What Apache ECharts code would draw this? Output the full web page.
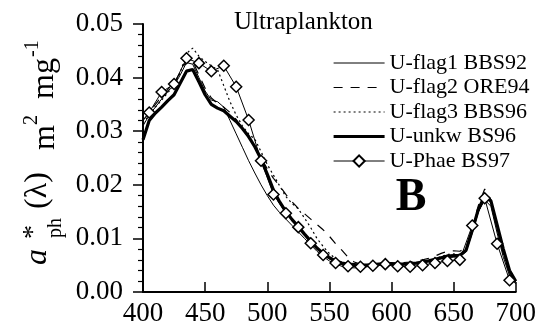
<!DOCTYPE html>
<html>
<head>
<meta charset="utf-8">
<script src="https://cdn.jsdelivr.net/npm/echarts@6/dist/echarts.min.js"></script>
<style>
  html, body { margin: 0; padding: 0; background: #fff; }
  #chart { width: 539px; height: 327px; }
</style>
</head>
<body>
<div id="chart"></div>
<script>
// Wavelength grid (nm) for the continuous spectra
const wavelengths = [400,405,410,415,420,425,430,435,440,445,450,455,460,465,470,475,480,485,490,495,
  500,505,510,515,520,525,530,535,540,545,550,555,560,565,570,575,580,585,590,595,
  600,605,610,615,620,625,630,635,640,645,650,655,660,665,670,675,680,685,690,695,700];

// Specific absorption a*ph (m2 mg-1)
const flag1 = [0.0310,0.0330,0.0345,0.0360,0.0375,0.0385,0.0405,0.0428,0.0425,0.0400,0.0375,0.0358,0.0355,0.0345,0.0320,0.0295,0.0270,0.0245,0.0222,0.0200,
  0.0180,0.0162,0.0148,0.0136,0.0124,0.0112,0.0100,0.0088,0.0076,0.0066,0.0058,0.0052,0.0048,0.0046,0.0045,0.0046,0.0047,0.0049,0.0050,0.0050,
  0.0050,0.0050,0.0051,0.0052,0.0053,0.0055,0.0057,0.0059,0.0062,0.0064,0.0065,0.0066,0.0075,0.0110,0.0150,0.0172,0.0160,0.0110,0.0065,0.0030,0.0015];

const flag2 = [0.0320,0.0335,0.0350,0.0365,0.0378,0.0390,0.0410,0.0432,0.0430,0.0405,0.0380,0.0362,0.0352,0.0345,0.0335,0.0322,0.0305,0.0288,0.0270,0.0250,
  0.0230,0.0212,0.0198,0.0182,0.0168,0.0156,0.0146,0.0136,0.0126,0.0116,0.0104,0.0090,0.0078,0.0065,0.0056,0.0052,0.0051,0.0052,0.0053,0.0054,
  0.0054,0.0054,0.0055,0.0056,0.0058,0.0060,0.0063,0.0067,0.0072,0.0076,0.0077,0.0076,0.0082,0.0120,0.0162,0.0192,0.0172,0.0120,0.0070,0.0035,0.0018];

const flag3 = [0.0315,0.0330,0.0345,0.0358,0.0372,0.0385,0.0410,0.0445,0.0455,0.0440,0.0430,0.0422,0.0415,0.0385,0.0355,0.0330,0.0310,0.0295,0.0285,0.0262,
  0.0238,0.0218,0.0198,0.0178,0.0165,0.0155,0.0138,0.0120,0.0100,0.0085,0.0072,0.0062,0.0055,0.0052,0.0050,0.0050,0.0051,0.0052,0.0053,0.0054,
  0.0054,0.0053,0.0053,0.0054,0.0055,0.0057,0.0059,0.0062,0.0066,0.0070,0.0071,0.0070,0.0080,0.0118,0.0158,0.0182,0.0168,0.0118,0.0072,0.0035,0.0018];

const unkw = [0.0284,0.0320,0.0334,0.0345,0.0357,0.0368,0.0390,0.0412,0.0415,0.0392,0.0368,0.0350,0.0343,0.0338,0.0328,0.0318,0.0305,0.0290,0.0271,0.0248,
  0.0220,0.0190,0.0168,0.0150,0.0135,0.0122,0.0108,0.0095,0.0082,0.0072,0.0064,0.0058,0.0054,0.0052,0.0051,0.0050,0.0050,0.0051,0.0052,0.0053,
  0.0053,0.0052,0.0052,0.0053,0.0054,0.0056,0.0058,0.0061,0.0064,0.0067,0.0068,0.0068,0.0078,0.0115,0.0155,0.0178,0.0170,0.0125,0.0080,0.0040,0.0020];

// Phaeocystis-type spectrum sampled every 10 nm
const phaeWavelengths = [405,415,425,435,445,455,465,475,485,495,505,515,525,535,545,555,565,575,585,595,605,615,625,635,645,655,665,675,685,695];
const phae = [0.0335,0.0373,0.0388,0.0436,0.0427,0.0412,0.0422,0.0383,0.0321,0.0245,0.0182,0.0147,0.0121,0.0091,0.0069,0.0054,0.0048,0.0047,0.0049,0.0052,
  0.0048,0.0047,0.0050,0.0054,0.0058,0.0060,0.0124,0.0175,0.0090,0.0022];

const seriesNames = ['U-flag1 BBS92', 'U-flag2 ORE94', 'U-flag3 BBS96', 'U-unkw BS96', 'U-Phae BS97'];
const xTicks = [400, 450, 500, 550, 600, 650, 700];
const yTicks = [0.00, 0.01, 0.02, 0.03, 0.04, 0.05];

const pair = (xs, ys) => xs.map((x, i) => [x, ys[i]]);
const serif = 'Liberation Serif';

const chart = echarts.init(document.getElementById('chart'), null, { renderer: 'canvas' });

const lineWidths = [1, 1.2, 1.2, 3.2, 1];
const lineTypes = ['solid', [9, 8], [2, 3], 'solid', 'solid'];

function lineSeries(i, xs, ys) {
  return {
    name: seriesNames[i],
    type: 'line',
    data: pair(xs, ys),
    symbol: 'none',
    lineStyle: { color: '#000', width: lineWidths[i], type: lineTypes[i] },
    itemStyle: { color: '#000' },
    animation: false
  };
}

// legend entries: plain line samples for the spectra drawn without markers
const hiddenMark = { color: 'rgba(0,0,0,0)', borderColor: 'rgba(0,0,0,0)', borderWidth: 0 };
const legendData = seriesNames.map((n, i) => ({
  name: n,
  itemStyle: i < 4 ? hiddenMark : undefined,
  lineStyle: { color: '#000', width: lineWidths[i], type: lineTypes[i] }
}));

const option = {
  animation: false,
  backgroundColor: '#fff',
  textStyle: { fontFamily: serif, color: '#000' },
  grid: { left: 143, right: 19, top: 24, bottom: 35, containLabel: false },
  title: {
    text: 'Ultraplankton',
    left: 229, top: 5,
    textStyle: { fontFamily: serif, fontSize: 25, fontWeight: 'normal', color: '#000' }
  },
  legend: {
    orient: 'vertical',
    left: 332, top: 52, padding: 0,
    itemWidth: 51, itemHeight: 14, itemGap: 2.5,
    data: legendData,
    textStyle: { fontFamily: serif, fontSize: 22, color: '#000', lineHeight: 22 }
  },
  xAxis: {
    type: 'value',
    min: 400, max: 700, interval: 50,
    axisLine: { lineStyle: { color: '#000', width: 2 } },
    axisTick: { inside: true, length: 10, lineStyle: { color: '#000', width: 1.5 } },
    axisLabel: {
      margin: 8, fontFamily: serif, fontSize: 27, color: '#000',
      customValues: xTicks
    },
    splitLine: { show: false }
  },
  yAxis: {
    type: 'value',
    min: 0, max: 0.05, interval: 0.01,
    axisLine: { show: true, lineStyle: { color: '#000', width: 2 } },
    axisTick: { show: true, inside: false, length: 10, lineStyle: { color: '#000', width: 1.5 } },
    minorTick: { show: true, splitNumber: 5, length: 5, lineStyle: { color: '#000', width: 1.2 } },
    axisLabel: {
      margin: 20, fontFamily: serif, fontSize: 27, color: '#000',
      customValues: yTicks,
      formatter: v => v.toFixed(2)
    },
    splitLine: { show: false }
  },
  series: [
    lineSeries(0, wavelengths, flag1),
    lineSeries(1, wavelengths, flag2),
    lineSeries(2, wavelengths, flag3),
    lineSeries(3, wavelengths, unkw),
    {
      name: seriesNames[4],
      type: 'line',
      data: pair(phaeWavelengths, phae),
      symbol: 'diamond',
      symbolSize: 11,
      lineStyle: { color: '#000', width: 1 },
      itemStyle: { color: '#fff', borderColor: '#000', borderWidth: 1.5 },
      animation: false
    }
  ],
  graphic: [
    { type: 'text', x: 411, y: 198, style: { text: 'B', font: 'bold 46px ' + serif, fill: '#000', textAlign: 'center', textVerticalAlign: 'middle' } },
    // rotated y-axis title: a*ph(λ) m2 mg-1
    { type: 'text', x: 38, y: 265, rotation: Math.PI / 2, style: { text: 'a', font: 'italic 32px ' + serif, fill: '#000', textAlign: 'left', textVerticalAlign: 'middle' } },
    { type: 'text', x: 34, y: 239, rotation: Math.PI / 2, style: { text: '*', font: '28px ' + serif, fill: '#000', textAlign: 'left', textVerticalAlign: 'middle' } },
    { type: 'text', x: 56, y: 238, rotation: Math.PI / 2, style: { text: 'ph', font: '20px ' + serif, fill: '#000', textAlign: 'left', textVerticalAlign: 'middle' } },
    { type: 'text', x: 38, y: 209, rotation: Math.PI / 2, style: { text: '(λ)', font: '32px ' + serif, fill: '#000', textAlign: 'left', textVerticalAlign: 'middle' } },
    { type: 'text', x: 46, y: 150, rotation: Math.PI / 2, style: { text: 'm', font: '32px ' + serif, fill: '#000', textAlign: 'left', textVerticalAlign: 'middle' } },
    { type: 'text', x: 32, y: 125, rotation: Math.PI / 2, style: { text: '2', font: '20px ' + serif, fill: '#000', textAlign: 'left', textVerticalAlign: 'middle' } },
    { type: 'text', x: 45, y: 99, rotation: Math.PI / 2, style: { text: 'mg', font: '32px ' + serif, fill: '#000', textAlign: 'left', textVerticalAlign: 'middle' } },
    { type: 'text', x: 33, y: 57, rotation: Math.PI / 2, style: { text: '-1', font: '20px ' + serif, fill: '#000', textAlign: 'left', textVerticalAlign: 'middle' } }
  ]
};

chart.setOption(option);
</script>
</body>
</html>
